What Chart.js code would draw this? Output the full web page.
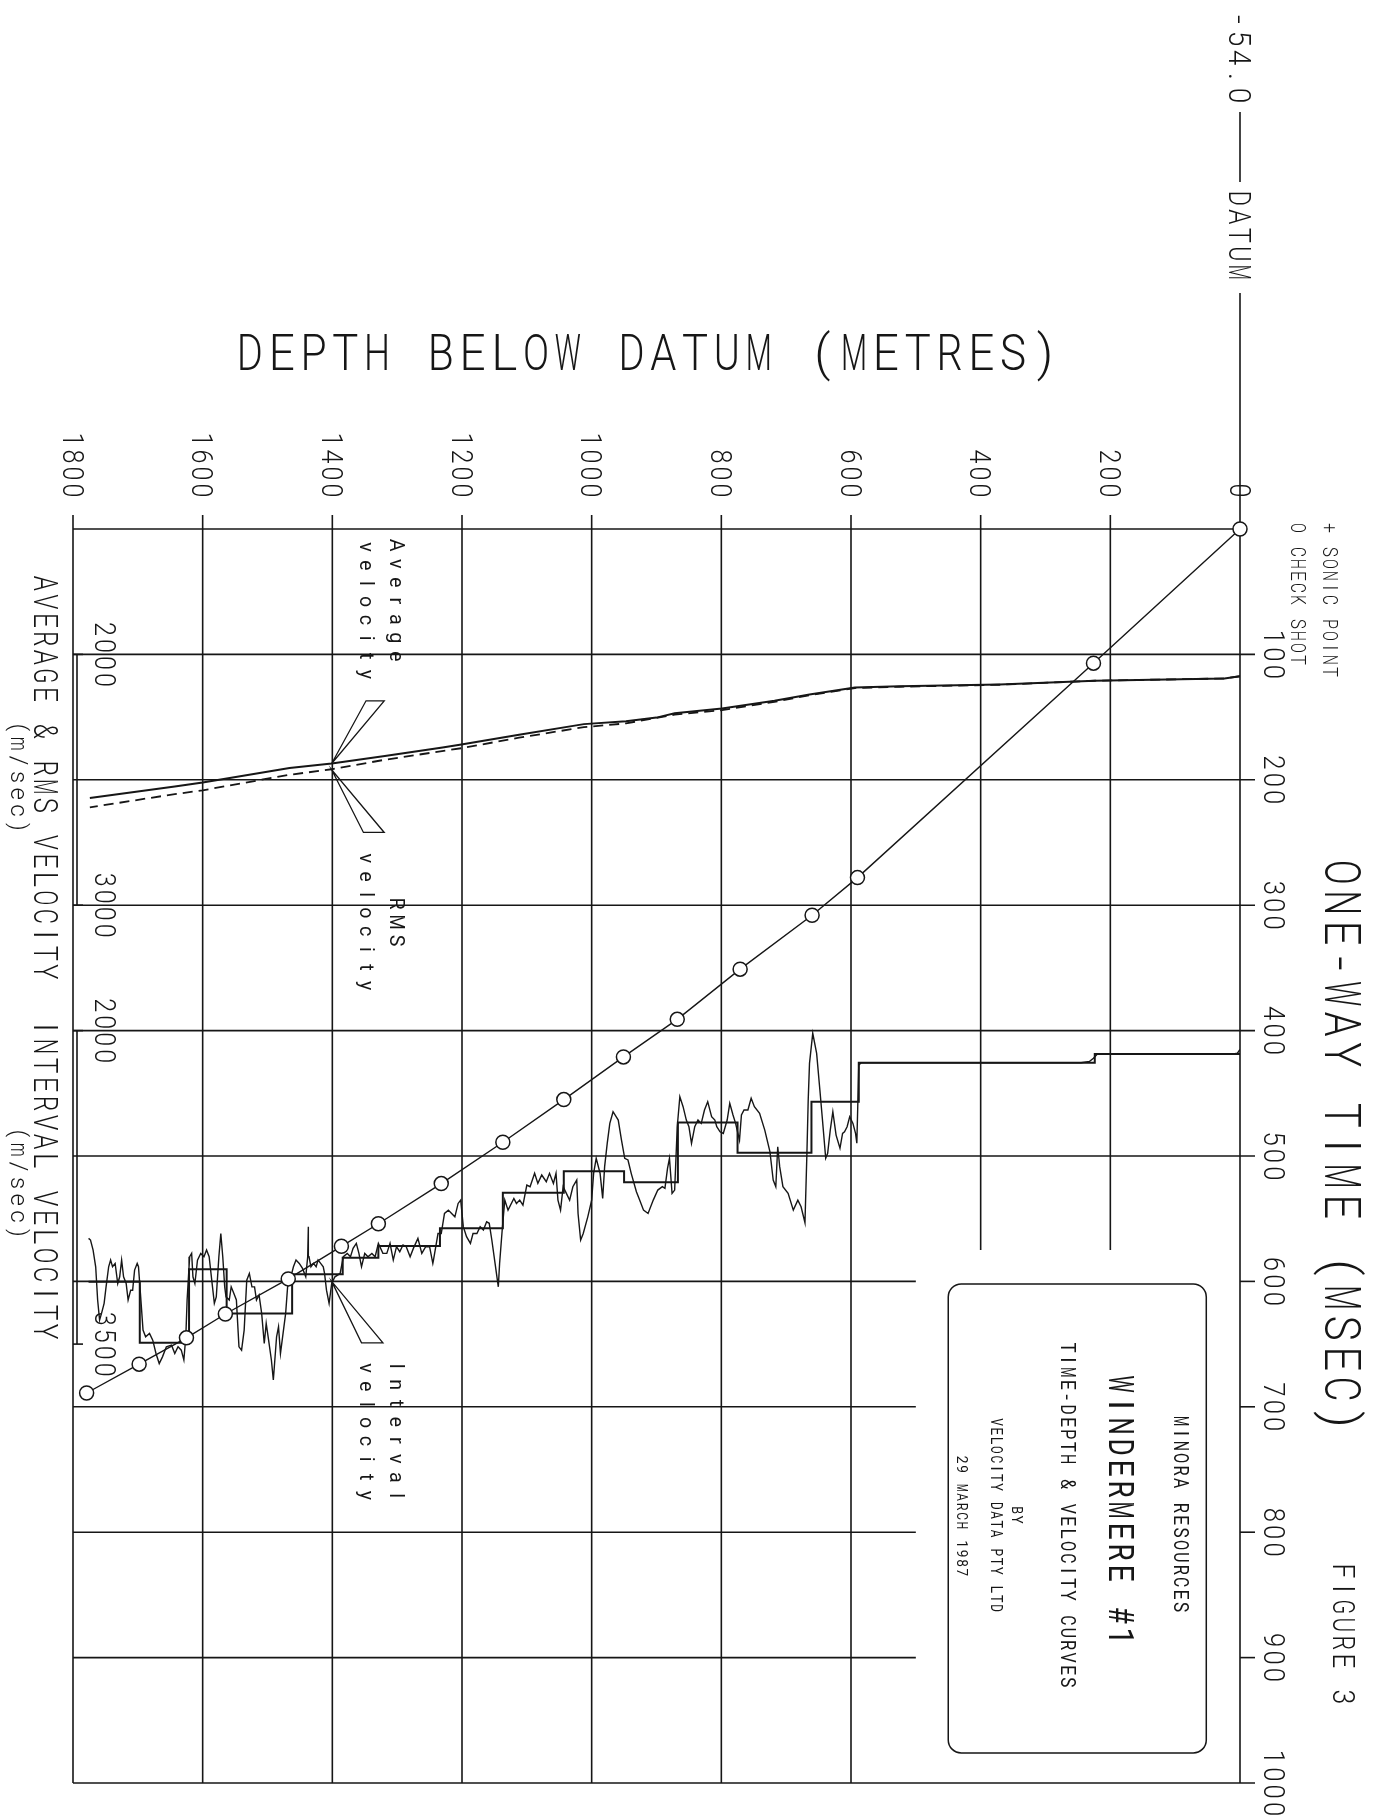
<!DOCTYPE html>
<html>
<head>
<meta charset="utf-8">
<title>Windermere #1 - time-depth & velocity curves</title>
<script src="https://cdn.jsdelivr.net/npm/chart.js@4/dist/chart.umd.min.js"></script>
<style>
  html, body { margin: 0; padding: 0; background: #fff; }
  #wrap { position: relative; width: 1385px; height: 1819px; }
</style>
</head>
<body>
<div id="wrap"><canvas id="myChart"></canvas></div>
<script>
// axis ticks
var depthTicks = [0, 200, 400, 600, 800, 1000, 1200, 1400, 1600, 1800];
var timeTicks = [100, 200, 300, 400, 500, 600, 700, 800, 900, 1000];

// check shots (depth m, one-way time ms)
var checkDepth = [0, 226, 590, 660, 771, 868, 951, 1043, 1137, 1232, 1329, 1386, 1468, 1565, 1625, 1698, 1779];
var checkTime  = [0, 107, 278, 308, 351, 391, 421, 455, 489, 522, 554, 572, 598, 626, 645, 666, 689];

// average and rms velocity (m/s)
var avgDepth = [0, 24, 224, 371, 525, 594, 664, 718, 799, 872, 900, 947, 1012, 1112, 1201, 1230, 1319, 1401, 1466, 1549, 1600, 1643, 1774];
var avgVel   = [2087, 2096, 2105, 2120, 2127, 2132, 2160, 2185, 2216, 2235, 2252, 2267, 2278, 2320, 2359, 2371, 2405, 2435, 2453, 2489, 2511, 2527, 2573];
var rmsDepth = [0, 24, 224, 371, 525, 594, 664, 718, 799, 872, 947, 1012, 1112, 1201, 1319, 1401, 1466, 1549, 1600, 1643, 1774];
var rmsVel   = [2087, 2096, 2105, 2121, 2129, 2134, 2163, 2189, 2222, 2240, 2275, 2290, 2332, 2374, 2420, 2458, 2480, 2518, 2542, 2557, 2610];

// blocked interval velocity (value holds until next depth)
var blockDepth = [0, 224, 588, 661, 775, 867, 950, 1043, 1137, 1234, 1329, 1384, 1462, 1563, 1621, 1697, 1776];
var blockVel   = [2112, 2154, 2340, 2584, 2440, 2725, 2673, 2776, 2946, 3031, 3087, 3166, 3353, 3142, 3493, 3202, 3202];

// sonic interval velocity
var sonicDepth = [0, 4, 10, 220, 226, 232, 245, 584, 588, 591, 593, 597, 602, 606, 610, 613, 617, 623, 628, 632, 636, 639, 644, 648, 653, 659, 664, 666, 668, 671, 677, 682, 689, 697, 705, 710, 713, 716, 720, 725, 733, 741, 749, 754, 759, 765, 769, 772, 778, 782, 787, 791, 797, 802, 807, 810, 815, 821, 826, 831, 836, 841, 846, 850, 854, 859, 864, 868, 872, 876, 880, 883, 887, 891, 898, 905, 913, 920, 926, 931, 939, 944, 949, 954, 959, 967, 972, 976, 980, 983, 987, 993, 997, 1000, 1006, 1013, 1017, 1021, 1023, 1029, 1034, 1039, 1044, 1048, 1052, 1055, 1059, 1065, 1070, 1077, 1083, 1088, 1095, 1100, 1106, 1111, 1116, 1120, 1129, 1134, 1138, 1142, 1144, 1149, 1154, 1158, 1162, 1167, 1172, 1177, 1183, 1187, 1193, 1198, 1202, 1206, 1211, 1216, 1221, 1227, 1232, 1237, 1244, 1245, 1250, 1256, 1262, 1268, 1275, 1280, 1286, 1291, 1296, 1301, 1306, 1311, 1316, 1322, 1329, 1334, 1339, 1345, 1350, 1355, 1359, 1363, 1368, 1372, 1377, 1383, 1388, 1396, 1401, 1405, 1409, 1412, 1414, 1418, 1422, 1425, 1429, 1433, 1436, 1437, 1438, 1441, 1446, 1451, 1456, 1460, 1464, 1467, 1469, 1472, 1476, 1480, 1483, 1486, 1491, 1494, 1499, 1502, 1505, 1509, 1513, 1517, 1520, 1524, 1528, 1532, 1536, 1540, 1544, 1548, 1552, 1556, 1559, 1564, 1566, 1569, 1572, 1575, 1579, 1582, 1586, 1590, 1594, 1598, 1603, 1608, 1612, 1615, 1617, 1620, 1621, 1624, 1626, 1629, 1633, 1638, 1643, 1648, 1656, 1662, 1667, 1672, 1677, 1682, 1688, 1692, 1696, 1699, 1701, 1705, 1708, 1711, 1715, 1718, 1722, 1725, 1728, 1731, 1735, 1739, 1742, 1745, 1749, 1752, 1756, 1759, 1762, 1765, 1769, 1773, 1776];
var sonicVel   = [2090, 2108, 2112, 2112, 2132, 2147, 2154, 2154, 2165, 2539, 2492, 2444, 2412, 2460, 2484, 2492, 2563, 2500, 2388, 2476, 2587, 2611, 2428, 2284, 2109, 2013, 2157, 2332, 2587, 2919, 2843, 2811, 2859, 2779, 2747, 2651, 2556, 2747, 2715, 2580, 2476, 2396, 2364, 2324, 2380, 2380, 2404, 2524, 2444, 2404, 2348, 2428, 2492, 2484, 2460, 2428, 2412, 2340, 2380, 2444, 2428, 2460, 2540, 2460, 2428, 2364, 2316, 2460, 2763, 2779, 2611, 2659, 2755, 2747, 2763, 2811, 2875, 2859, 2811, 2771, 2683, 2619, 2611, 2524, 2428, 2388, 2444, 2540, 2651, 2803, 2683, 2611, 2683, 2811, 2891, 2971, 3002, 2875, 2715, 2747, 2811, 2779, 2747, 2859, 2811, 2683, 2731, 2683, 2723, 2691, 2731, 2683, 2747, 2739, 2835, 2811, 2827, 2803, 2859, 2811, 2954, 3114, 3226, 3114, 3002, 2922, 2915, 2954, 2938, 2971, 2971, 3018, 2986, 2938, 2811, 2827, 2891, 2875, 2859, 2875, 2971, 2971, 3098, 3114, 3034, 3034, 3066, 2994, 3042, 3082, 3034, 3026, 3058, 3034, 3098, 3018, 3066, 3066, 3018, 3082, 3066, 3082, 3066, 3130, 3066, 3018, 3042, 3082, 3066, 3082, 3162, 3178, 3210, 3305, 3242, 3162, 3130, 3114, 3098, 3130, 3114, 3130, 3082, 2938, 3082, 3178, 3138, 3114, 3098, 3130, 3178, 3210, 3226, 3353, 3449, 3545, 3417, 3465, 3672, 3576, 3465, 3401, 3497, 3353, 3265, 3289, 3226, 3226, 3162, 3194, 3433, 3529, 3513, 3289, 3257, 3226, 3289, 3274, 3226, 3082, 2971, 3082, 3274, 3305, 3194, 3082, 3050, 3082, 3066, 3098, 3210, 3178, 3066, 3082, 3130, 3289, 3465, 3576, 3529, 3513, 3545, 3505, 3513, 3561, 3593, 3545, 3481, 3449, 3465, 3433, 3257, 3130, 3114, 3146, 3242, 3242, 3289, 3210, 3178, 3098, 3178, 3210, 3114, 3130, 3098, 3130, 3226, 3305, 3353, 3385, 3289, 3130, 3050, 3002, 2994];

var INK = '#161616';
var FONT = 'Roboto, "Liberation Sans", sans-serif';

function pts(xs, ys) {
    return xs.map(function(x, i){ return {x: x, y: ys[i]}; });
}

// plotter style lettering: fixed advance per character, optional 90deg clockwise turn
// wide glyphs get squeezed so they stay inside their cell
function plotText(ctx, str, x, y, cap, adv, align, vertical, weight){
    var size = cap / 0.71;
    var len = str.length * adv;
    var off = align === 'center' ? -len / 2 : (align === 'end' ? -len : 0);
    ctx.save();
    ctx.translate(x, y);
    if (vertical) ctx.rotate(Math.PI / 2);
    ctx.font = (weight || '300') + ' ' + size + 'px ' + FONT;
    ctx.fillStyle = INK;
    ctx.textAlign = 'center';
    ctx.textBaseline = 'alphabetic';
    for (var i = 0; i < str.length; i++){
        var w = ctx.measureText(str[i]).width;
        var maxW = adv * 0.82;
        ctx.save();
        ctx.translate(off + i * adv + adv / 2, cap / 2);
        if (w > maxW) ctx.scale(maxW / w, 1);
        ctx.fillText(str[i], 0, 0);
        ctx.restore();
    }
    ctx.restore();
}

function seg(ctx, x1, y1, x2, y2){
    ctx.beginPath();
    ctx.moveTo(x1, y1);
    ctx.lineTo(x2, y2);
    ctx.stroke();
}

var gridPlugin = {
    id: 'plotterGrid',
    beforeDatasetsDraw: function(chart){
        var ctx = chart.ctx, a = chart.chartArea;
        var xs = chart.scales.x, ys = chart.scales.y;
        ctx.save();
        ctx.strokeStyle = INK;
        ctx.lineWidth = 1.6;
        // depth lines, the shallow two stop above the title block
        depthTicks.forEach(function(d){
            var px = xs.getPixelForValue(d);
            var bottom = (d === 200 || d === 400) ? ys.getPixelForValue(575) : a.bottom;
            seg(ctx, px, a.top - 14, px, bottom);
        });
        // time lines
        seg(ctx, a.left, a.top, a.right, a.top);
        timeTicks.forEach(function(t){
            var py = ys.getPixelForValue(t);
            if (t <= 500 || t === 1000){
                seg(ctx, a.left, py, a.right + 15, py);
            } else {
                seg(ctx, a.left, py, xs.getPixelForValue(500), py);
                seg(ctx, a.right, py, a.right + 15, py);
            }
        });
        ctx.restore();
    },
    afterDraw: function(chart){
        var ctx = chart.ctx, a = chart.chartArea;
        var xs = chart.scales.x, ys = chart.scales.y;
        var yAvg = chart.scales.yAvg, yInt = chart.scales.yInt;
        var x0 = xs.getPixelForValue(0);
        ctx.save();
        ctx.strokeStyle = INK;
        ctx.lineWidth = 1.6;

        // datum marker
        plotText(ctx, '-54.0', x0, 10, 22, 19, 'start', true);
        seg(ctx, x0, 112, x0, 182);
        plotText(ctx, 'DATUM', x0, 189, 22, 18.5, 'start', true);
        seg(ctx, x0, 293, x0, a.top - 14);

        // axis titles
        plotText(ctx, 'DEPTH BELOW DATUM (METRES)', 234, 352, 36, 31.8, 'start', false);
        plotText(ctx, 'ONE-WAY TIME (MSEC)', a.right + 103, 857, 36, 30.4, 'start', true);
        plotText(ctx, 'FIGURE 3', a.right + 104, 1562, 22, 18, 'start', true);
        plotText(ctx, '+ SONIC POINT', a.right + 90, 522, 14, 12, 'start', true);
        plotText(ctx, 'O CHECK SHOT', a.right + 58, 522, 14, 12, 'start', true);

        // tick labels
        depthTicks.forEach(function(d){
            plotText(ctx, String(d), xs.getPixelForValue(d), a.top - 30, 21, 17, 'end', true);
        });
        timeTicks.forEach(function(t){
            plotText(ctx, String(t), a.right + 34, ys.getPixelForValue(t), 21, 17.4, 'center', true);
        });

        // velocity scales on the deep side
        plotText(ctx, 'AVERAGE & RMS VELOCITY', 46, 574, 24, 18.5, 'start', true);
        plotText(ctx, '(m/sec)', 19, 719, 17, 16.6, 'start', true);
        plotText(ctx, 'INTERVAL VELOCITY', 46, 1018, 24, 19, 'start', true);
        plotText(ctx, '(m/sec)', 19, 1125, 17, 16.6, 'start', true);
        [[yAvg, 2000], [yAvg, 3000], [yInt, 2000], [yInt, 3500]].forEach(function(v){
            plotText(ctx, String(v[1]), a.left + 32, v[0].getPixelForValue(v[1]), 21, 17, 'center', true);
        });
        var bx = a.left + 4;
        [[yAvg, 2000, 3000], [yInt, 2000, 3500]].forEach(function(b){
            var p1 = b[0].getPixelForValue(b[1]), p2 = b[0].getPixelForValue(b[2]);
            seg(ctx, bx, p1, bx, p2);
            seg(ctx, a.left, p1, a.left + 10, p1);
            seg(ctx, a.left, p2, a.left + 10, p2);
        });

        // curve pointers
        ctx.lineWidth = 1.3;
        var pointers = [
            {tip: [1401, 187], b1: [1348, 137], b2: [1320, 137]},
            {tip: [1401, 192], b1: [1352, 242], b2: [1320, 242]},
            {tip: [1401, 600], b1: [1355, 649], b2: [1322, 649]}
        ];
        pointers.forEach(function(p){
            ctx.beginPath();
            ctx.moveTo(xs.getPixelForValue(p.tip[0]), ys.getPixelForValue(p.tip[1]));
            ctx.lineTo(xs.getPixelForValue(p.b1[0]), ys.getPixelForValue(p.b1[1]));
            ctx.lineTo(xs.getPixelForValue(p.b2[0]), ys.getPixelForValue(p.b2[1]));
            ctx.closePath();
            ctx.stroke();
        });
        var lx = xs.getPixelForValue(1400);
        plotText(ctx, 'Average', lx + 65, 536, 14, 18.5, 'start', true, '400');
        plotText(ctx, 'velocity', lx + 35, 538, 14, 18.2, 'start', true, '400');
        plotText(ctx, 'RMS', lx + 65, 922, 14, 18.5, 'center', true, '400');
        plotText(ctx, 'velocity', lx + 35, 922, 14, 18.2, 'center', true, '400');
        plotText(ctx, 'Interval', lx + 65, 1357, 14, 18.5, 'start', true, '400');
        plotText(ctx, 'velocity', lx + 35, 1359, 14, 18.2, 'start', true, '400');

        // title block
        var L = xs.getPixelForValue(450), R = xs.getPixelForValue(52);
        var T = ys.getPixelForValue(602), B = ys.getPixelForValue(976);
        ctx.lineWidth = 1.5;
        ctx.beginPath();
        ctx.roundRect(L, T, R - L, B - T, 13);
        ctx.fillStyle = '#fff';
        ctx.fill();
        ctx.stroke();
        plotText(ctx, 'MINORA RESOURCES', 1181, 1514, 14, 12.4, 'center', true, '400');
        plotText(ctx, 'WINDERMERE #1', 1121, 1510, 25, 21, 'center', true, '400');
        plotText(ctx, 'TIME-DEPTH & VELOCITY CURVES', 1068, 1515, 14, 12.4, 'center', true, '400');
        plotText(ctx, 'BY', 1017, 1515, 10, 9.5, 'center', true, '400');
        plotText(ctx, 'VELOCITY DATA PTY LTD', 997, 1515, 12, 9.3, 'center', true, '400');
        plotText(ctx, '29 MARCH 1987', 962, 1516, 11, 9.4, 'center', true, '400');
        ctx.restore();
    }
};

var ctx = document.getElementById('myChart').getContext('2d');

var myChart = new Chart(ctx, {
    type: 'scatter',
    data: {
        datasets: [{
            label: 'Check shots',
            data: pts(checkDepth, checkTime),
            yAxisID: 'y',
            showLine: true,
            clip: 12,
            borderColor: INK,
            borderWidth: 1.4,
            pointRadius: 7,
            pointBorderWidth: 1.5,
            pointBorderColor: INK,
            pointBackgroundColor: '#fff'
        }, {
            label: 'Average velocity',
            data: pts(avgDepth, avgVel),
            yAxisID: 'yAvg',
            showLine: true,
            borderColor: INK,
            borderWidth: 2,
            pointRadius: 0
        }, {
            label: 'RMS velocity',
            data: pts(rmsDepth, rmsVel),
            yAxisID: 'yAvg',
            showLine: true,
            borderColor: INK,
            borderWidth: 1.8,
            borderDash: [10, 6],
            pointRadius: 0
        }, {
            label: 'Interval velocity (blocked)',
            data: pts(blockDepth, blockVel),
            yAxisID: 'yInt',
            showLine: true,
            stepped: 'before',
            borderColor: INK,
            borderWidth: 2,
            pointRadius: 0
        }, {
            label: 'Interval velocity (sonic)',
            data: pts(sonicDepth, sonicVel),
            yAxisID: 'yInt',
            showLine: true,
            borderColor: INK,
            borderWidth: 1.4,
            pointRadius: 0
        }]
    },
    options: {
        responsive: true,
        maintainAspectRatio: false,
        animation: false,
        events: [],
        layout: { padding: { left: 73, top: 529, right: 145, bottom: 36 } },
        plugins: { legend: { display: false }, tooltip: { enabled: false } },
        scales: {
            x: { type: 'linear', min: 0, max: 1800, reverse: true, display: false },
            y: { type: 'linear', min: 0, max: 1000, reverse: true, display: false },
            yAvg: { type: 'linear', min: 1500, max: 6500, reverse: true, display: false },
            yInt: { type: 'linear', min: -400, max: 5600, reverse: true, display: false }
        }
    },
    plugins: [gridPlugin]
});
</script>
</body>
</html>
